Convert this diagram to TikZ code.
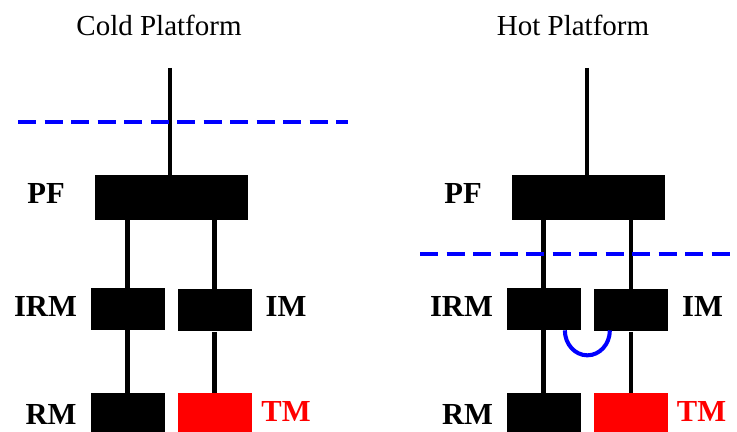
\documentclass[tikz,border=0pt]{standalone}
\usepackage{fontspec}
\setmainfont{Liberation Serif}
\begin{document}
\begin{tikzpicture}[
blk/.style={fill=black, inner sep=0pt, minimum width=1.48cm, minimum height=0.84cm},
pfblk/.style={blk, minimum width=3.06cm, minimum height=0.9cm},
lbl/.style={font=\fontsize{17.4}{20}\selectfont\bfseries},
title/.style={font=\fontsize{16.5}{20}\selectfont},
link/.style={line width=2.3pt},
cut/.style={blue, line width=2.3pt, dash pattern=on 0.36cm off 0.17cm}
]
\useasboundingbox (0,0) rectangle (14.74,8.64);

% cold platform
\node[title] (cold) at (3.18,8.14) {Cold Platform};
\coordinate (top1) at (3.40,7.28);
\node[pfblk] (PF1) at (3.43,4.69) {};
\node[blk] (IRM1) at (2.55,2.46) {};
\node[blk] (IM1) at (4.29,2.43) {};
\node[blk] (RM1) at (2.55,0.36) {};
\node[blk, fill=red] (TM1) at (4.29,0.36) {};

\node[lbl] (pf1) at (0.92,4.77) {PF};
\node[lbl] (irm1) at (0.91,2.51) {IRM};
\node[lbl] (im1) at (5.72,2.52) {IM};
\node[lbl] (rm1) at (1.02,0.35) {RM};
\node[lbl, red] (tm1) at (5.72,0.42) {TM};

\draw[link] (top1) -- (top1 |- PF1.north);
\draw[link] (IRM1.north) -- (IRM1.north |- PF1.south);
\draw[link] (IM1.north) -- (IM1.north |- PF1.south);
\draw[link] (IRM1.south) -- (RM1.north);
\draw[link] (IM1.south) -- (TM1.north);

\coordinate (c1a) at (0.36,6.20);
\coordinate (c1b) at (6.96,6.20);
\draw[cut] (c1a) -- (c1b);

% hot platform
\node[title] (hot) at (11.46,8.14) {Hot Platform};
\coordinate (top2) at (11.74,7.28);
\node[pfblk] (PF2) at (11.76,4.69) {};
\node[blk] (IRM2) at (10.87,2.46) {};
\node[blk] (IM2) at (12.62,2.43) {};
\node[blk] (RM2) at (10.87,0.36) {};
\node[blk, fill=red] (TM2) at (12.62,0.36) {};

\node[lbl] (pf2) at (9.26,4.77) {PF};
\node[lbl] (irm2) at (9.23,2.51) {IRM};
\node[lbl] (im2) at (14.05,2.52) {IM};
\node[lbl] (rm2) at (9.35,0.35) {RM};
\node[lbl, red] (tm2) at (14.03,0.42) {TM};

\draw[link] (top2) -- (top2 |- PF2.north);
\draw[link] (IRM2.north) -- (IRM2.north |- PF2.south);
\draw[link] (IM2.north) -- (IM2.north |- PF2.south);
\draw[link] (IRM2.south) -- (RM2.north);
\draw[link] (IM2.south) -- (TM2.north);

% loop between IRM and IM
\draw[blue, line width=2.3pt] ([xshift=-0.32cm]IRM2.south east)
  arc[start angle=180, end angle=360, x radius=0.45cm, y radius=0.5cm];

\coordinate (c2a) at (8.40,3.56);
\coordinate (c2b) at (14.62,3.56);
\draw[cut] (c2a) -- (c2b);
\end{tikzpicture}
\end{document}
